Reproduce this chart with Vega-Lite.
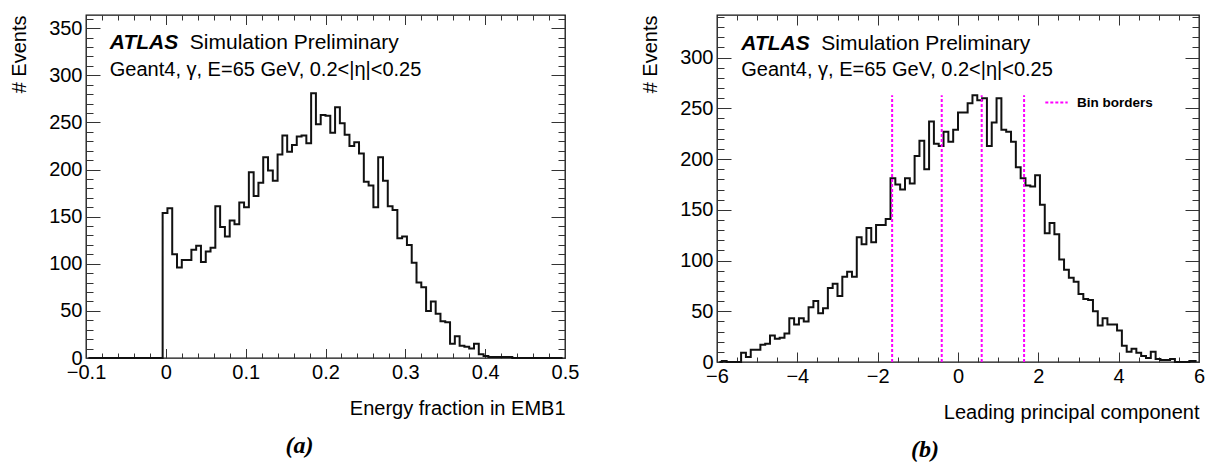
{
  "$schema": "https://vega.github.io/schema/vega-lite/v6.json",
  "padding": {"left": 8, "top": 6, "right": 5, "bottom": 5},
  "background": "white",
  "datasets": {
    "a": [
      {"x": -0.097, "n": 0}, {"x": -0.091, "n": 0}, {"x": -0.085, "n": 0}, {"x": -0.079, "n": 0},
      {"x": -0.073, "n": 0}, {"x": -0.067, "n": 0}, {"x": -0.061, "n": 0}, {"x": -0.055, "n": 0},
      {"x": -0.049, "n": 0}, {"x": -0.043, "n": 0}, {"x": -0.037, "n": 0}, {"x": -0.031, "n": 0},
      {"x": -0.025, "n": 0}, {"x": -0.019, "n": 0}, {"x": -0.013, "n": 0}, {"x": -0.007, "n": 0},
      {"x": -0.001, "n": 154}, {"x": 0.005, "n": 159}, {"x": 0.011, "n": 110}, {"x": 0.017, "n": 96},
      {"x": 0.023, "n": 104}, {"x": 0.029, "n": 104}, {"x": 0.035, "n": 115}, {"x": 0.041, "n": 119},
      {"x": 0.047, "n": 102}, {"x": 0.053, "n": 113}, {"x": 0.059, "n": 117}, {"x": 0.065, "n": 161},
      {"x": 0.071, "n": 139}, {"x": 0.077, "n": 129}, {"x": 0.083, "n": 146}, {"x": 0.089, "n": 142},
      {"x": 0.095, "n": 165}, {"x": 0.101, "n": 160}, {"x": 0.107, "n": 197}, {"x": 0.113, "n": 172},
      {"x": 0.119, "n": 186}, {"x": 0.125, "n": 213}, {"x": 0.131, "n": 199}, {"x": 0.137, "n": 188},
      {"x": 0.143, "n": 216}, {"x": 0.149, "n": 236}, {"x": 0.155, "n": 219}, {"x": 0.161, "n": 226},
      {"x": 0.167, "n": 235}, {"x": 0.173, "n": 236}, {"x": 0.179, "n": 228}, {"x": 0.185, "n": 281},
      {"x": 0.191, "n": 248}, {"x": 0.197, "n": 258}, {"x": 0.203, "n": 257}, {"x": 0.209, "n": 239},
      {"x": 0.215, "n": 266}, {"x": 0.221, "n": 249}, {"x": 0.227, "n": 237}, {"x": 0.233, "n": 225},
      {"x": 0.239, "n": 229}, {"x": 0.245, "n": 217}, {"x": 0.251, "n": 187}, {"x": 0.257, "n": 183},
      {"x": 0.263, "n": 160}, {"x": 0.269, "n": 213}, {"x": 0.275, "n": 188}, {"x": 0.281, "n": 161},
      {"x": 0.287, "n": 157}, {"x": 0.293, "n": 127}, {"x": 0.299, "n": 129}, {"x": 0.305, "n": 120},
      {"x": 0.311, "n": 101}, {"x": 0.317, "n": 80}, {"x": 0.323, "n": 75}, {"x": 0.329, "n": 50},
      {"x": 0.335, "n": 60}, {"x": 0.341, "n": 47}, {"x": 0.347, "n": 39}, {"x": 0.353, "n": 38},
      {"x": 0.359, "n": 15}, {"x": 0.365, "n": 23}, {"x": 0.371, "n": 13}, {"x": 0.377, "n": 12},
      {"x": 0.383, "n": 10}, {"x": 0.389, "n": 15}, {"x": 0.395, "n": 4}, {"x": 0.401, "n": 2},
      {"x": 0.407, "n": 1}, {"x": 0.413, "n": 1}, {"x": 0.419, "n": 1}, {"x": 0.425, "n": 1},
      {"x": 0.431, "n": 1}, {"x": 0.437, "n": 0}, {"x": 0.443, "n": 0}, {"x": 0.449, "n": 0},
      {"x": 0.455, "n": 0}, {"x": 0.461, "n": 0}, {"x": 0.467, "n": 0}, {"x": 0.473, "n": 0},
      {"x": 0.479, "n": 0}, {"x": 0.485, "n": 0}, {"x": 0.491, "n": 0}, {"x": 0.497, "n": 0}
    ],
    "b": [
      {"x": -5.94, "n": 0}, {"x": -5.82, "n": 1}, {"x": -5.70, "n": 0}, {"x": -5.58, "n": 0},
      {"x": -5.46, "n": 0}, {"x": -5.34, "n": 9}, {"x": -5.22, "n": 5}, {"x": -5.10, "n": 12},
      {"x": -4.98, "n": 12}, {"x": -4.86, "n": 17}, {"x": -4.74, "n": 18}, {"x": -4.62, "n": 26},
      {"x": -4.50, "n": 23}, {"x": -4.38, "n": 24}, {"x": -4.26, "n": 28}, {"x": -4.14, "n": 43},
      {"x": -4.02, "n": 37}, {"x": -3.90, "n": 43}, {"x": -3.78, "n": 40}, {"x": -3.66, "n": 54},
      {"x": -3.54, "n": 60}, {"x": -3.42, "n": 48}, {"x": -3.30, "n": 53}, {"x": -3.18, "n": 73},
      {"x": -3.06, "n": 77}, {"x": -2.94, "n": 65}, {"x": -2.82, "n": 84}, {"x": -2.70, "n": 89},
      {"x": -2.58, "n": 84}, {"x": -2.46, "n": 123}, {"x": -2.34, "n": 116}, {"x": -2.22, "n": 132},
      {"x": -2.10, "n": 118}, {"x": -1.98, "n": 135}, {"x": -1.86, "n": 135}, {"x": -1.74, "n": 141},
      {"x": -1.62, "n": 181}, {"x": -1.50, "n": 175}, {"x": -1.38, "n": 170}, {"x": -1.26, "n": 181},
      {"x": -1.14, "n": 176}, {"x": -1.02, "n": 203}, {"x": -0.90, "n": 218}, {"x": -0.78, "n": 190},
      {"x": -0.66, "n": 237}, {"x": -0.54, "n": 215}, {"x": -0.42, "n": 213}, {"x": -0.30, "n": 227},
      {"x": -0.18, "n": 217}, {"x": -0.06, "n": 229}, {"x": 0.06, "n": 246}, {"x": 0.18, "n": 246},
      {"x": 0.30, "n": 255}, {"x": 0.42, "n": 263}, {"x": 0.54, "n": 258}, {"x": 0.66, "n": 260},
      {"x": 0.78, "n": 213}, {"x": 0.90, "n": 236}, {"x": 1.02, "n": 260}, {"x": 1.14, "n": 229},
      {"x": 1.26, "n": 227}, {"x": 1.38, "n": 217}, {"x": 1.50, "n": 192}, {"x": 1.62, "n": 181},
      {"x": 1.74, "n": 174}, {"x": 1.86, "n": 173}, {"x": 1.98, "n": 184}, {"x": 2.10, "n": 155},
      {"x": 2.22, "n": 127}, {"x": 2.34, "n": 137}, {"x": 2.46, "n": 126}, {"x": 2.58, "n": 101},
      {"x": 2.70, "n": 91}, {"x": 2.82, "n": 83}, {"x": 2.94, "n": 79}, {"x": 3.06, "n": 67},
      {"x": 3.18, "n": 62}, {"x": 3.30, "n": 61}, {"x": 3.42, "n": 50}, {"x": 3.54, "n": 36},
      {"x": 3.66, "n": 43}, {"x": 3.78, "n": 37}, {"x": 3.90, "n": 37}, {"x": 4.02, "n": 31},
      {"x": 4.14, "n": 16}, {"x": 4.26, "n": 10}, {"x": 4.38, "n": 13}, {"x": 4.50, "n": 9},
      {"x": 4.62, "n": 6}, {"x": 4.74, "n": 4}, {"x": 4.86, "n": 10}, {"x": 4.98, "n": 3},
      {"x": 5.10, "n": 2}, {"x": 5.22, "n": 2}, {"x": 5.34, "n": 3}, {"x": 5.46, "n": 0},
      {"x": 5.58, "n": 0}, {"x": 5.70, "n": 0}, {"x": 5.82, "n": 1}, {"x": 5.94, "n": 1}
    ],
    "borders": [
      {"x": -1.64, "label": "Bin borders"},
      {"x": -0.405, "label": "Bin borders"},
      {"x": 0.59, "label": "Bin borders"},
      {"x": 1.645, "label": "Bin borders"}
    ],
    "one": [{}]
  },
  "hconcat": [
    {
      "width": 479,
      "height": 343,
      "title": {"text": "(a)", "orient": "bottom", "anchor": "middle", "frame": "group", "dx": -26, "offset": 16, "font": "Liberation Serif", "fontStyle": "italic", "fontWeight": "bold", "fontSize": 24, "color": "#000"},
      "resolve": {"axis": {"x": "independent", "y": "independent"}},
      "layer": [
        {
          "data": {"name": "a"},
          "mark": {"type": "line", "interpolate": "step", "color": "#111", "strokeWidth": 2},
          "encoding": {
            "x": {"field": "x", "type": "quantitative", "scale": {"domain": [-0.1, 0.5], "nice": false, "zero": false},
                  "axis": {
                    "values": [-0.1, -0.08, -0.06, -0.04, -0.02, 0, 0.02, 0.04, 0.06, 0.08, 0.1, 0.12, 0.14, 0.16, 0.18, 0.2, 0.22, 0.24, 0.26, 0.28, 0.3, 0.32, 0.34, 0.36, 0.38, 0.4, 0.42, 0.44, 0.46, 0.48, 0.5],
                    "format": "~g",
                    "labelExpr": "abs(datum.value * 10 - round(datum.value * 10)) < 0.001 ? datum.label : ''",
                    "labelOverlap": false, "labelFlush": false, "labelPadding": 4,
                    "ticks": false,
                    "grid": true, "gridColor": "#333", "gridWidth": 1, "gridOpacity": 1,
                    "gridDash": {"condition": {"test": "abs(datum.value * 10 - round(datum.value * 10)) < 0.001", "value": [9.5, 324, 9.5, 1000]}, "value": [5, 333, 5, 1000]},
                    "title": "Energy fraction in EMB1", "titleAnchor": "end", "titlePadding": 16}},
            "y": {"field": "n", "type": "quantitative", "scale": {"domain": [0, 364], "nice": false},
                  "axis": {
                    "values": [0, 10, 20, 30, 40, 50, 60, 70, 80, 90, 100, 110, 120, 130, 140, 150, 160, 170, 180, 190, 200, 210, 220, 230, 240, 250, 260, 270, 280, 290, 300, 310, 320, 330, 340, 350, 360],
                    "labelExpr": "datum.value % 50 === 0 ? datum.label : ''",
                    "labelOverlap": false, "labelFlush": false, "labelPadding": 4,
                    "ticks": false,
                    "grid": true, "gridColor": "#333", "gridWidth": 1, "gridOpacity": 1,
                    "gridDash": {"condition": {"test": "datum.value % 50 === 0", "value": [14, 451, 14, 1000]}, "value": [7, 465, 7, 1000]},
                    "title": "# Events", "titleAnchor": "end", "titlePadding": 19}}
          }
        },
        {
          "data": {"name": "one"},
          "mark": {"type": "text", "text": "ATLAS", "font": "Liberation Sans", "fontStyle": "italic", "fontWeight": "bold", "fontSize": 21, "align": "left", "baseline": "alphabetic", "color": "#000"},
          "encoding": {
            "x": {"datum": -0.0702, "type": "quantitative", "scale": {"domain": [-0.1, 0.5], "nice": false, "zero": false}, "axis": null},
            "y": {"datum": 328.3, "type": "quantitative", "scale": {"domain": [0, 364], "nice": false}, "axis": null}
          }
        },
        {
          "data": {"name": "one"},
          "mark": {"type": "text", "text": "Simulation Preliminary", "font": "Liberation Sans", "fontSize": 21, "align": "left", "baseline": "alphabetic", "dx": 80, "color": "#000"},
          "encoding": {
            "x": {"datum": -0.0702, "type": "quantitative", "scale": {"domain": [-0.1, 0.5], "nice": false, "zero": false}, "axis": null},
            "y": {"datum": 328.3, "type": "quantitative", "scale": {"domain": [0, 364], "nice": false}, "axis": null}
          }
        },
        {
          "data": {"name": "one"},
          "mark": {"type": "text", "text": "Geant4, γ, E=65 GeV, 0.2<|η|<0.25", "font": "Liberation Sans", "fontSize": 20, "align": "left", "baseline": "alphabetic", "color": "#000"},
          "encoding": {
            "x": {"datum": -0.0702, "type": "quantitative", "scale": {"domain": [-0.1, 0.5], "nice": false, "zero": false}, "axis": null},
            "y": {"datum": 299.5, "type": "quantitative", "scale": {"domain": [0, 364], "nice": false}, "axis": null}
          }
        }
      ]
    },
    {
      "width": 482,
      "height": 347,
      "title": {"text": "(b)", "orient": "bottom", "anchor": "middle", "frame": "group", "dx": -33, "offset": 16, "font": "Liberation Serif", "fontStyle": "italic", "fontWeight": "bold", "fontSize": 24, "color": "#000"},
      "resolve": {"axis": {"x": "independent", "y": "independent"}},
      "layer": [
        {
          "data": {"name": "b"},
          "mark": {"type": "line", "interpolate": "step", "color": "#111", "strokeWidth": 2},
          "encoding": {
            "x": {"field": "x", "type": "quantitative", "scale": {"domain": [-6, 6], "nice": false, "zero": false},
                  "axis": {
                    "values": [-6, -5.5, -5, -4.5, -4, -3.5, -3, -2.5, -2, -1.5, -1, -0.5, 0, 0.5, 1, 1.5, 2, 2.5, 3, 3.5, 4, 4.5, 5, 5.5, 6],
                    "format": "~g",
                    "labelExpr": "datum.value % 2 === 0 ? datum.label : ''",
                    "labelOverlap": false, "labelFlush": false, "labelPadding": 4,
                    "ticks": false,
                    "grid": true, "gridColor": "#333", "gridWidth": 1, "gridOpacity": 1,
                    "gridDash": {"condition": {"test": "datum.value % 2 === 0", "value": [10, 327, 10, 1000]}, "value": [5, 337, 5, 1000]},
                    "title": "Leading principal component", "titleAnchor": "end", "titlePadding": 16}},
            "y": {"field": "n", "type": "quantitative", "scale": {"domain": [0, 342], "nice": false},
                  "axis": {
                    "values": [0, 10, 20, 30, 40, 50, 60, 70, 80, 90, 100, 110, 120, 130, 140, 150, 160, 170, 180, 190, 200, 210, 220, 230, 240, 250, 260, 270, 280, 290, 300, 310, 320, 330, 340],
                    "labelExpr": "datum.value % 50 === 0 ? datum.label : ''",
                    "labelOverlap": false, "labelFlush": false, "labelPadding": 4,
                    "ticks": false,
                    "grid": true, "gridColor": "#333", "gridWidth": 1, "gridOpacity": 1,
                    "gridDash": {"condition": {"test": "datum.value % 50 === 0", "value": [14, 454, 14, 1000]}, "value": [7, 468, 7, 1000]},
                    "title": "# Events", "titleAnchor": "end", "titlePadding": 19}}
          }
        },
        {
          "data": {"name": "borders"},
          "mark": {"type": "rule", "strokeDash": [3, 2], "strokeWidth": 2},
          "encoding": {
            "x": {"field": "x", "type": "quantitative", "scale": {"domain": [-6, 6], "nice": false, "zero": false}, "axis": null},
            "y": {"datum": 0, "type": "quantitative", "scale": {"domain": [0, 342], "nice": false}, "axis": null},
            "y2": {"datum": 263},
            "color": {"field": "label", "type": "nominal", "scale": {"range": ["#ff00ff"]},
                      "legend": {"orient": "none", "legendX": 958, "legendY": 75, "title": null, "symbolType": "stroke", "symbolDash": [3, 2], "symbolStrokeWidth": 2, "symbolSize": 500, "labelFont": "Liberation Sans", "labelFontWeight": "bold", "labelFontSize": 13.5, "labelColor": "#000", "labelOffset": 8}}
          }
        },
        {
          "data": {"name": "one"},
          "mark": {"type": "text", "text": "ATLAS", "font": "Liberation Sans", "fontStyle": "italic", "fontWeight": "bold", "fontSize": 21, "align": "left", "baseline": "alphabetic", "color": "#000"},
          "encoding": {
            "x": {"datum": -5.395, "type": "quantitative", "scale": {"domain": [-6, 6], "nice": false, "zero": false}, "axis": null},
            "y": {"datum": 307.7, "type": "quantitative", "scale": {"domain": [0, 342], "nice": false}, "axis": null}
          }
        },
        {
          "data": {"name": "one"},
          "mark": {"type": "text", "text": "Simulation Preliminary", "font": "Liberation Sans", "fontSize": 21, "align": "left", "baseline": "alphabetic", "dx": 80, "color": "#000"},
          "encoding": {
            "x": {"datum": -5.395, "type": "quantitative", "scale": {"domain": [-6, 6], "nice": false, "zero": false}, "axis": null},
            "y": {"datum": 307.7, "type": "quantitative", "scale": {"domain": [0, 342], "nice": false}, "axis": null}
          }
        },
        {
          "data": {"name": "one"},
          "mark": {"type": "text", "text": "Geant4, γ, E=65 GeV, 0.2<|η|<0.25", "font": "Liberation Sans", "fontSize": 20, "align": "left", "baseline": "alphabetic", "color": "#000"},
          "encoding": {
            "x": {"datum": -5.395, "type": "quantitative", "scale": {"domain": [-6, 6], "nice": false, "zero": false}, "axis": null},
            "y": {"datum": 281.4, "type": "quantitative", "scale": {"domain": [0, 342], "nice": false}, "axis": null}
          }
        }
      ]
    }
  ],
  "spacing": 152,
  "bounds": "flush",
  "config": {
    "view": {"stroke": "#111", "strokeWidth": 1.3},
    "axis": {"domain": false, "labelFont": "Liberation Sans", "labelFontSize": 20, "labelColor": "#000", "titleFont": "Liberation Sans", "titleFontSize": 20, "titleFontWeight": "normal", "titleColor": "#000"},
    "text": {"font": "Liberation Sans"}
  }
}
